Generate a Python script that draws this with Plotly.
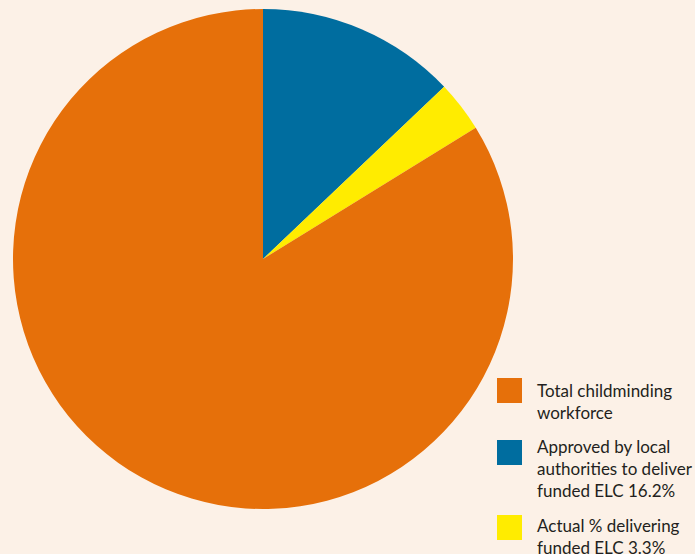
import plotly.graph_objects as go

labels = ["Total childminding<br>workforce",
          "Approved by local<br>authorities to deliver<br>funded ELC 16.2%",
          "Actual % delivering<br>funded ELC 3.3%"]
values = [83.8, 12.9, 3.3]
colors = ["#E6700A", "#006D9F", "#FFEC00"]
pie_order = [1, 2, 0]  # clockwise from 12 o'clock: blue, yellow, orange

W, H = 695, 554
bg = "#FCF1E7"

fig = go.Figure(go.Pie(
    labels=[labels[i] for i in pie_order],
    values=[values[i] for i in pie_order],
    sort=False, direction="clockwise", rotation=0,
    marker=dict(colors=[colors[i] for i in pie_order], line=dict(width=0)),
    textinfo="none", showlegend=False,
    domain=dict(x=[13 / W, 513 / W], y=[1 - 509 / H, 1 - 9 / H]),
))

# custom legend
sq_top = [378, 440, 515]
txt_mid = [401.5, 468.5, 536.5]
shapes, annos = [], []
for lab, col, t, m in zip(labels, colors, sq_top, txt_mid):
    shapes.append(dict(type="rect", xref="paper", yref="paper",
                       x0=497 / W, x1=522 / W, y0=1 - (t + 25) / H, y1=1 - t / H,
                       fillcolor=col, line=dict(width=0)))
    annos.append(dict(text=lab, xref="paper", yref="paper", x=535 / W, y=1 - m / H,
                      xanchor="left", yanchor="middle", align="left", showarrow=False,
                      font=dict(family="Lato", size=17, color="#231F20")))

fig.update_layout(width=W, height=H, margin=dict(l=0, r=0, t=0, b=0),
                  paper_bgcolor=bg, plot_bgcolor=bg,
                  shapes=shapes, annotations=annos)
fig.write_html("out.html", config=dict(displayModeBar=False),
               post_script="document.body.style.margin='0';document.body.style.overflow='hidden';document.body.style.background='%s';" % bg)
